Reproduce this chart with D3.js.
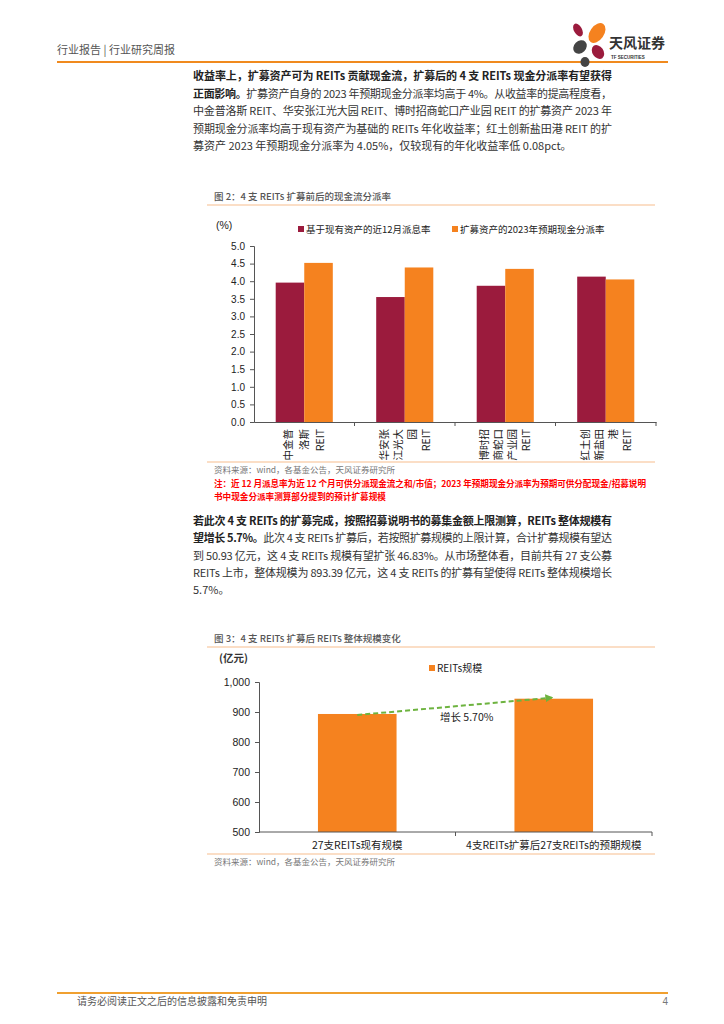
<!DOCTYPE html>
<html><head><meta charset="utf-8">
<script src="https://cdn.jsdelivr.net/npm/d3@7"></script>
<style>body{margin:0;background:#fff} svg{display:block}</style>
</head><body><div id="page"></div>
<script>
// figure 2 data
var fig2Cats = ["中金普洛斯REIT", "华安张江光大园REIT", "博时招商蛇口产业园REIT", "红土创新盐田港REIT"];
var fig2CatLines = [["中金普", "洛斯", "REIT"], ["华安张", "江光大", "园", "REIT"], ["博时招", "商蛇口", "产业园", "REIT"], ["红土创", "新盐田", "港", "REIT"]];
var fig2Series = ["基于现有资产的近12月派息率", "扩募资产的2023年预期现金分派率"];
var fig2Existing = [3.96, 3.55, 3.87, 4.13];
var fig2Expanded = [4.52, 4.39, 4.35, 4.05];
var fig2Ticks = [0, 0.5, 1, 1.5, 2, 2.5, 3, 3.5, 4, 4.5, 5];

// figure 3 data
var fig3Cats = ["27支REITs现有规模", "4支REITs扩募后27支REITs的预期规模"];
var fig3Values = [893.39, 944.32];
var fig3Ticks = [500, 600, 700, 800, 900, 1000];
var fig3Growth = "增长 5.70%";

var para1 = [
  [[1, "收益率上，扩募资产可为 REITs 贡献现金流，扩募后的 4 支 REITs 现金分派率有望获得"]],
  [[1, "正面影响。"], [0, "扩募资产自身的 2023 年预期现金分派率均高于 4%。从收益率的提高程度看，"]],
  [[0, "中金普洛斯 REIT、华安张江光大园 REIT、博时招商蛇口产业园 REIT 的扩募资产 2023 年"]],
  [[0, "预期现金分派率均高于现有资产为基础的 REITs 年化收益率；红土创新盐田港 REIT 的扩"]],
  [[0, "募资产 2023 年预期现金分派率为 4.05%，仅较现有的年化收益率低 0.08pct。"]]
];
var para2 = [
  [[1, "若此次 4 支 REITs 的扩募完成，按照招募说明书的募集金额上限测算，REITs 整体规模有"]],
  [[1, "望增长 5.7%。"], [0, "此次 4 支 REITs 扩募后，若按照扩募规模的上限计算，合计扩募规模有望达"]],
  [[0, "到 50.93 亿元，这 4 支 REITs 规模有望扩张 46.83%。从市场整体看，目前共有 27 支公募"]],
  [[0, "REITs 上市，整体规模为 893.39 亿元，这 4 支 REITs 的扩募有望使得 REITs 整体规模增长"]],
  [[0, "5.7%。"]]
];

var CJK = "'Noto Sans CJK SC', 'Noto Sans', sans-serif";
var ARIAL = "'Liberation Sans', 'Noto Sans CJK SC', sans-serif";
var ORANGE = "#F5821F", RED = "#9B1B3D", LINE = "#F7BE8E";

var svg = d3.select("#page").append("svg").attr("width", 724).attr("height", 1024);

// header
svg.append("text").attr("x", 57).attr("y", 54).attr("font-family", CJK).attr("font-size", 11)
  .attr("fill", "#555").text("行业报告 | 行业研究周报");
svg.append("line").attr("x1", 57).attr("x2", 668).attr("y1", 62).attr("y2", 62)
  .attr("stroke", "#F08A1E").attr("stroke-width", 2);
var logo = svg.append("g");
[[597, 33, 7, 11, 35, ORANGE], [578, 30, 4, 7, -30, RED], [598, 52, 5.5, 7.5, -35, RED],
 [580, 47, 6, 7.5, 45, "#444"], [585, 62, 4.5, 5, 0, "#444"]].forEach(function (p) {
  logo.append("ellipse").attr("cx", 0).attr("cy", 0).attr("rx", p[2]).attr("ry", p[3])
    .attr("transform", "translate(" + p[0] + "," + p[1] + ") rotate(" + p[4] + ")").attr("fill", p[5]);
});
svg.append("text").attr("x", 609).attr("y", 48).attr("font-family", CJK).attr("font-weight", "bold")
  .attr("font-size", 14).attr("fill", "#333").text("天风证券");
svg.append("text").attr("x", 611).attr("y", 59).attr("font-family", ARIAL).attr("font-weight", "bold")
  .attr("font-size", 4.5).attr("fill", "#333").text("TF SECURITIES");

// paragraphs
function paragraph(lines, y0, dy) {
  lines.forEach(function (segs, i) {
    var t = svg.append("text").attr("x", 193).attr("y", y0 + i * dy)
      .attr("font-family", CJK).attr("font-size", 11).attr("fill", "#333");
    if (i < lines.length - 1) t.attr("textLength", 419).attr("lengthAdjust", "spacing");
    segs.forEach(function (s) {
      t.append("tspan").attr("font-weight", s[0] ? "bold" : "normal")
        .attr("fill", s[0] ? "#222" : "#333").text(s[1]);
    });
  });
}
paragraph(para1, 80, 17.5);
paragraph(para2, 525, 17.3);

// figure frames
function frame(title, yTitle, yTop, yBot, src) {
  svg.append("text").attr("x", 214).attr("y", yTitle).attr("font-family", CJK).attr("font-size", 9.5)
    .attr("font-weight", 500).attr("fill", "#555").text(title);
  [yTop, yBot].forEach(function (y) {
    svg.append("line").attr("x1", 207).attr("x2", 655).attr("y1", y).attr("y2", y)
      .attr("stroke", LINE).attr("stroke-width", 1.2);
  });
  svg.append("text").attr("x", 214).attr("y", yBot + 11).attr("font-family", CJK).attr("font-size", 8.5)
    .attr("fill", "#777").text(src);
}
var SRC = "资料来源：wind，各基金公告，天风证券研究所";
frame("图 2：4 支 REITs 扩募前后的现金流分派率", 200, 205, 462, SRC);
frame("图 3：4 支 REITs 扩募后 REITs 整体规模变化", 642, 647, 854, SRC);

// note
svg.append("text").attr("x", 214).attr("y", 487).attr("font-family", CJK).attr("font-size", 8.6)
  .attr("font-weight", "bold").attr("fill", "#FF0000").attr("textLength", 432).attr("lengthAdjust", "spacing")
  .text("注：近 12 月派息率为近 12 个月可供分派现金流之和/市值；2023 年预期现金分派率为预期可供分配现金/招募说明");
svg.append("text").attr("x", 214).attr("y", 500).attr("font-family", CJK).attr("font-size", 8.6)
  .attr("font-weight", "bold").attr("fill", "#FF0000").text("书中现金分派率测算部分提到的预计扩募规模");

// ---------- figure 2 ----------
var g2 = svg.append("g");
var y2 = d3.scaleLinear().domain([0, 5]).range([422, 246]);
var x2 = d3.scaleBand().domain(fig2Cats).range([254, 656]);
var s2 = d3.scaleBand().domain([0, 1]).range([0, x2.bandwidth()]).paddingOuter(0.76);
var colors2 = [RED, ORANGE];

g2.append("g").attr("transform", "translate(254,0)")
  .call(d3.axisLeft(y2).tickValues(fig2Ticks).tickFormat(d3.format(".1f")).tickSize(4).tickPadding(5))
  .call(function (a) {
    a.selectAll("path,line").attr("stroke", "#555");
    a.selectAll("text").attr("font-family", ARIAL).attr("font-size", 10).attr("fill", "#222");
  });

var rows2 = fig2Cats.map(function (c, i) { return { cat: c, vals: [fig2Existing[i], fig2Expanded[i]] }; });
g2.selectAll("g.cat").data(rows2).enter().append("g").attr("class", "cat")
  .attr("transform", function (d) { return "translate(" + x2(d.cat) + ",0)"; })
  .selectAll("rect").data(function (d) { return d.vals; }).enter().append("rect")
  .attr("x", function (d, i) { return s2(i); }).attr("width", s2.bandwidth())
  .attr("y", function (d) { return y2(d); }).attr("height", function (d) { return y2(0) - y2(d); })
  .attr("fill", function (d, i) { return colors2[i]; });

g2.append("g").attr("transform", "translate(0,422)")
  .call(d3.axisBottom(x2).tickSize(0).tickFormat(""))
  .call(function (a) {
    a.select("path").attr("stroke", "#555");
    a.selectAll(".tick").remove();
  });
g2.selectAll("line.xt").data(fig2Cats.slice(1).concat(["end"])).enter().append("line").attr("class", "xt")
  .attr("x1", function (d) { return d === "end" ? 656 : x2(d); })
  .attr("x2", function (d) { return d === "end" ? 656 : x2(d); })
  .attr("y1", 422).attr("y2", 426).attr("stroke", "#555");

// vertical category labels
fig2CatLines.forEach(function (lines, i) {
  var cx = x2(fig2Cats[i]) + x2.bandwidth() / 2;
  var n = lines.length, step = n === 3 ? 16 : 14;
  lines.forEach(function (l, j) {
    var lx = cx + (j - (n - 1) / 2) * step + 4;
    g2.append("text").attr("transform", "translate(" + lx + ",429) rotate(-90)")
      .attr("text-anchor", "end").attr("font-family", CJK).attr("font-size", 10.5).attr("fill", "#222").text(l);
  });
});

g2.append("text").attr("x", 216).attr("y", 229).attr("font-family", ARIAL).attr("font-size", 10.5)
  .attr("fill", "#222").text("(%)");
var leg2x = [298, 452];
fig2Series.forEach(function (s, i) {
  g2.append("rect").attr("x", leg2x[i]).attr("y", 226).attr("width", 6).attr("height", 6).attr("fill", colors2[i]);
  g2.append("text").attr("x", leg2x[i] + 8).attr("y", 233).attr("font-family", CJK).attr("font-size", 9.5)
    .attr("fill", "#222").text(s);
});

// ---------- figure 3 ----------
var g3 = svg.append("g");
var y3 = d3.scaleLinear().domain([500, 1000]).range([832, 682]);
var x3 = d3.scaleBand().domain(fig3Cats).range([259, 652]).paddingInner(0.6).paddingOuter(0.3);

g3.append("g").attr("transform", "translate(259,0)")
  .call(d3.axisLeft(y3).tickValues(fig3Ticks).tickFormat(d3.format(",")).tickSize(4).tickPadding(5))
  .call(function (a) {
    a.selectAll("path,line").attr("stroke", "#555");
    a.selectAll("text").attr("font-family", ARIAL).attr("font-size", 10.5).attr("fill", "#222");
  });

g3.selectAll("rect.bar").data(fig3Values).enter().append("rect").attr("class", "bar")
  .attr("x", function (d, i) { return x3(fig3Cats[i]); }).attr("width", x3.bandwidth())
  .attr("y", function (d) { return y3(d); }).attr("height", function (d) { return y3(500) - y3(d); })
  .attr("fill", ORANGE);

g3.append("line").attr("x1", 259).attr("x2", 652).attr("y1", 832).attr("y2", 832).attr("stroke", "#555");
var step3 = x3.step();
[259 + step3 * 0.3 + step3 * 0.7, 652].forEach(function (tx, i) {
  g3.append("line").attr("x1", i === 0 ? (259 + 652) / 2 : tx).attr("x2", i === 0 ? (259 + 652) / 2 : tx)
    .attr("y1", 832).attr("y2", 836).attr("stroke", "#555");
});
fig3Cats.forEach(function (c) {
  g3.append("text").attr("x", x3(c) + x3.bandwidth() / 2).attr("y", 849).attr("text-anchor", "middle")
    .attr("font-family", CJK).attr("font-size", 10.5).attr("fill", "#222").text(c);
});

g3.append("text").attr("x", 219).attr("y", 662).attr("font-family", CJK).attr("font-size", 10.5)
  .attr("font-weight", "bold").attr("fill", "#333").text("(亿元)");
g3.append("rect").attr("x", 429).attr("y", 665).attr("width", 6).attr("height", 6).attr("fill", ORANGE);
g3.append("text").attr("x", 437).attr("y", 672).attr("font-family", CJK).attr("font-size", 10)
  .attr("fill", "#222").text("REITs规模");

// growth arrow
svg.append("defs").append("marker").attr("id", "arr").attr("viewBox", "0 0 10 10")
  .attr("refX", 8).attr("refY", 5).attr("markerWidth", 4).attr("markerHeight", 4).attr("orient", "auto")
  .append("path").attr("d", "M0,0L10,5L0,10z").attr("fill", "#6DB33F");
var ax1 = x3(fig3Cats[0]) + x3.bandwidth() / 2, ax2 = x3(fig3Cats[1]) + x3.bandwidth() / 2 - 2;
g3.append("line").attr("x1", ax1).attr("y1", y3(fig3Values[0]) + 1).attr("x2", ax2).attr("y2", y3(fig3Values[1]) - 1)
  .attr("stroke", "#6DB33F").attr("stroke-width", 2).attr("stroke-dasharray", "5,3")
  .attr("marker-end", "url(#arr)");
g3.append("text").attr("x", 440).attr("y", 721).attr("font-family", CJK).attr("font-size", 10.5)
  .attr("fill", "#222").text(fig3Growth);

// footer
svg.append("line").attr("x1", 57).attr("x2", 668).attr("y1", 993).attr("y2", 993)
  .attr("stroke", "#F0A030").attr("stroke-width", 2);
svg.append("text").attr("x", 77).attr("y", 1005).attr("font-family", CJK).attr("font-size", 10)
  .attr("fill", "#555").text("请务必阅读正文之后的信息披露和免责申明");
svg.append("text").attr("x", 668).attr("y", 1005).attr("text-anchor", "end").attr("font-family", ARIAL)
  .attr("font-size", 10).attr("fill", "#777").text("4");
</script></body></html>
